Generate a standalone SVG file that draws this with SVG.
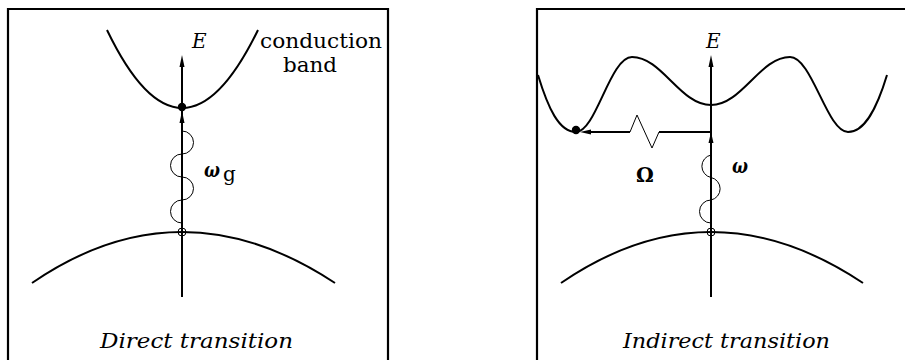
<svg xmlns="http://www.w3.org/2000/svg" width="905" height="360" viewBox="0 0 905 360">
<style>
.frame{fill:none;stroke:#000;stroke-width:2.2}
.band{fill:none;stroke:#000;stroke-width:2}
.axis{fill:none;stroke:#000;stroke-width:2}
.thin{fill:none;stroke:#000;stroke-width:1}
.head{fill:#000}
.t{font-family:"DejaVu Serif","Liberation Serif",serif;font-size:20px;fill:#000}
.i{font-style:italic}
</style>
<rect width="905" height="360" fill="#fff"/>
<g id="panel-direct">
  <path class="frame" d="M8,362 V9 H388 V362"/>
  <g id="conduction-band-direct"><path class="band" d="M107,30 Q182,186 258,30"/></g>
  <g id="valence-band-direct"><path class="band" d="M32,283 Q180.5,181 335,283"/></g>
  <g id="electron-direct"><circle cx="182" cy="107" r="4.2" fill="#000"/></g>
  <g id="hole-direct"><circle cx="182" cy="232" r="4" class="thin"/></g>
  <g id="labels-direct">
    <text class="t i" x="192" y="48" font-size="21">E</text>
    <text class="t" x="260" y="48" textLength="122" lengthAdjust="spacingAndGlyphs">conduction</text>
    <text class="t" x="283" y="72" textLength="54" lengthAdjust="spacingAndGlyphs">band</text>
    <text class="t i" x="204" y="177" font-size="21" font-weight="bold" textLength="16" lengthAdjust="spacingAndGlyphs">ω</text>
    <text class="t" x="223" y="181" font-size="15">g</text>
    <text class="t i" x="100" y="348" textLength="193" lengthAdjust="spacingAndGlyphs">Direct transition</text>
  </g>
</g>
<g id="panel-indirect">
  <path class="frame" d="M537,362 V9 H907"/>
  <g id="conduction-band-indirect"><path class="band" d="M538,75 C548,108 559,132 576,132 C596,132 610,57 632,57 C662,57 680,105 711,105 C742,105 760,57 790,57 C812,57 827,132 848,132 C865,132 877,108 887,75"/></g>
  <g id="valence-band-indirect"><path class="band" d="M561,283 Q710,181 863,283"/></g>
  <g id="electron-indirect"><circle cx="576" cy="130" r="4.2" fill="#000"/></g>
  <g id="hole-indirect"><circle cx="711" cy="232" r="4" class="thin"/></g>
  <g id="labels-indirect">
    <text class="t i" x="706" y="48" font-size="21">E</text>
    <text class="t" x="636" y="182" font-weight="bold">Ω</text>
    <text class="t i" x="732" y="173" font-size="21" font-weight="bold" textLength="16" lengthAdjust="spacingAndGlyphs">ω</text>
    <text class="t i" x="623" y="348" textLength="207" lengthAdjust="spacingAndGlyphs">Indirect transition</text>
  </g>
</g>
<g id="connectors">
  <path class="axis" d="M182,297 V60"/>
  <polygon class="head" points="182,55 179.5,67 184.5,67"/>
  <polygon class="head" points="182,111 179.5,123 184.5,123"/>
  <path class="thin" d="M182,131 A11.5,11.5 0 0 1 182,154 A11.5,11.5 0 0 0 182,177 A11.5,11.5 0 0 1 182,200 A11.5,11.5 0 0 0 182,223"/>
  <path class="axis" d="M711,297 V60"/>
  <polygon class="head" points="711,55 708.5,67 713.5,67"/>
  <polygon class="head" points="711,132 708.5,143 713.5,143"/>
  <path class="thin" d="M711,155 A11.5,11.5 0 0 0 711,177.5 A11.5,11.5 0 0 1 711,200 A11.5,11.5 0 0 0 711,223"/>
  <path class="axis" d="M711,132 H659 M630,132 H586"/>
  <path class="thin" d="M630,132 L637,115 L652,148 L659,132"/>
  <polygon class="head" points="580,132 591,129.5 591,134.5"/>
</g>
</svg>
